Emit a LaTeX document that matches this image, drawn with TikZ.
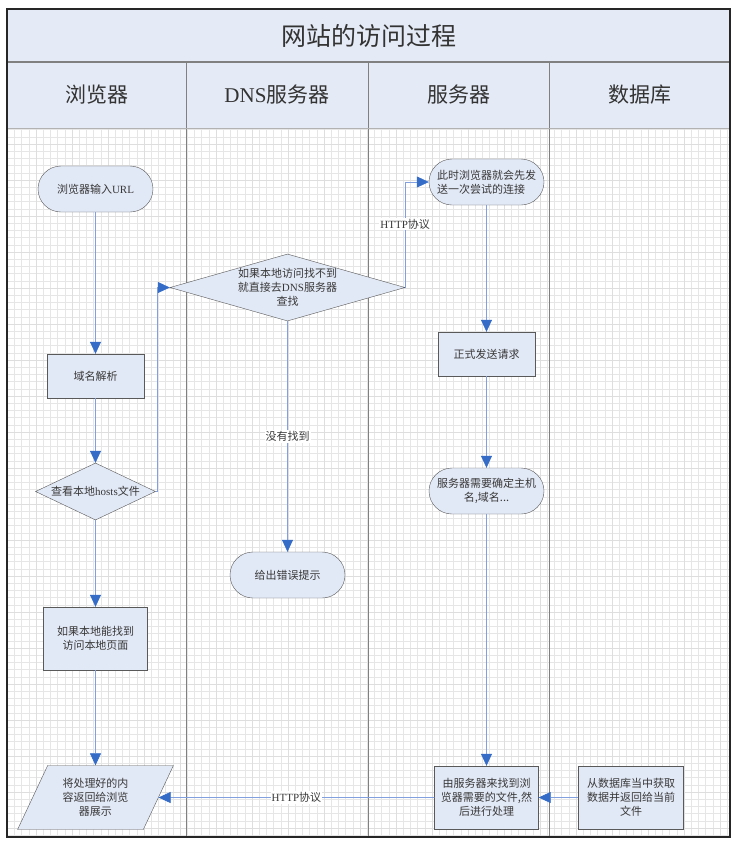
\documentclass[tikz,border=0pt]{standalone}
\usepackage{fontspec}
\setmainfont{Liberation Serif}
\newfontfamily\cjk{Noto Sans CJK SC}
\usepackage{xcolor}
\usepackage{tikz}
\usetikzlibrary{shapes.geometric,arrows.meta}
\definecolor{boxfill}{RGB}{226,233,246}
\definecolor{headfill}{RGB}{229,235,246}
\definecolor{linkblue}{RGB}{130,160,222}
\definecolor{tipblue}{RGB}{52,108,200}
\definecolor{gridgray}{RGB}{230,230,230}

\begin{document}
\begin{tikzpicture}[x=1pt, y=-1pt, node distance=150pt,
    every node/.style={font=\cjk\fontsize{11}{14}\selectfont, text=black!78},
    process/.style={rectangle, draw=black!65, fill=boxfill, align=center, inner sep=2pt},
    terminal/.style={rectangle, rounded corners=23pt, minimum width=115pt, minimum height=46pt, draw=black!65, fill=boxfill, align=center},
    decision/.style={diamond, draw=black!65, fill=boxfill, inner sep=0pt},
    io/.style={trapezium, trapezium left angle=63, trapezium right angle=117, trapezium stretches=true, minimum width=156pt, minimum height=64pt, draw=black!65, fill=boxfill, align=center},
    head/.style={font=\cjk\fontsize{21}{24}\selectfont, text=black!80},
    link/.style={draw=linkblue, line width=0.6pt},
    arrow/.style={link, -{Triangle[length=12pt, width=11pt, color=tipblue]}},
    tag/.style={fill=white, inner sep=1pt}]

    % 背景、网格和泳道
    \useasboundingbox (0,0) rectangle (741,847);
    \fill[headfill] (7,9) rectangle (730,128);
    \fill[white] (7,128) rectangle (730,837);
    \draw[gridgray, line width=0.3pt, step=7.2pt] (7,128) grid (730,837);
    \draw[black!13, line width=0.4pt, step=36pt] (7,128) grid (730,837);
    \foreach \x in {186,368,549}
        \draw[black!50, line width=0.7pt] (\x,62) -- (\x,837);
    \draw[black!50, line width=1.5pt] (7,62) -- (730,62);
    \draw[black!30, line width=0.6pt] (7,128) -- (730,128);
    \draw[black!85, line width=1.2pt] (7,9) rectangle (730,837);

    % 标题和表头
    \node[font=\cjk\fontsize{25}{30}\selectfont, text=black!80] (title) at (368.5,35.5) {网站的访问过程};
    \node[head] (lane1) at (96.5,95) {浏览器};
    \node[head] (lane2) at (277,95) {\textrm{DNS}服务器};
    \node[head] (lane3) at (458.5,95) {服务器};
    \node[head] (lane4) at (639.5,95) {数据库};

    % 节点定义
    \node[terminal] (url) at (95.5,189) {浏览器输入\textrm{URL}};
    \node[process, below of=url, node distance=187pt, minimum width=97pt, minimum height=44pt] (parse) {域名解析};
    \node[decision, below of=parse, node distance=115.5pt, minimum width=120pt, minimum height=57pt,
        label={center:查看本地\textrm{hosts}文件}] (hosts) {};
    \node[process, below of=hosts, node distance=147pt, minimum width=104pt, minimum height=63pt] (local) {如果本地能找到\\访问本地页面};
    \node[io, below of=local, node distance=159pt] (show) {将处理好的内\\容返回给浏览\\器展示};

    \node[decision, minimum width=235pt, minimum height=67pt,
        label={[align=center]center:如果本地访问找不到\\就直接去\textrm{DNS}服务器\\查找}] (dns) at (287.5,287.5) {};
    \node[terminal, below of=dns, node distance=287.5pt] (notfound) {给出错误提示};

    \node[terminal, align=left] (try) at (486.5,182) {此时浏览器就会先发\\送一次尝试的连接};
    \node[process, below of=try, node distance=172pt, minimum width=97pt, minimum height=44pt] (send) {正式发送请求};
    \node[terminal, below of=send, node distance=137pt] (host) {服务器需要确定主机\\名,域名...};
    \node[process, below of=host, node distance=306.5pt, minimum width=104pt, minimum height=63pt] (handle) {由服务器来找到浏\\览器需要的文件,然\\后进行处理};
    \node[process, right of=handle, node distance=144.5pt, minimum width=105pt, minimum height=63pt] (fetch) {从数据库当中获取\\数据并返回给当前\\文件};

    % 连接线
    \draw[arrow] (url) -- (parse);
    \draw[arrow] (parse) -- (hosts);
    \draw[arrow] (hosts.east) -- ++(2,0) |- (dns.west);
    \draw[arrow] (hosts) -- (local);
    \draw[arrow] (local) -- (show);
    \draw[arrow] (dns) -- node[tag] {没有找到} (notfound);
    \draw[arrow] (dns.east) |- node[tag, pos=0.3] {\textrm{HTTP}协议} (try.west);
    \draw[arrow] (try) -- (send);
    \draw[arrow] (send) -- (host);
    \draw[arrow] (host) -- (handle);
    \draw[arrow] (fetch) -- (handle);
    \draw[arrow] (handle) -- node[tag] {\textrm{HTTP}协议} (show.east);
\end{tikzpicture}
\end{document}
